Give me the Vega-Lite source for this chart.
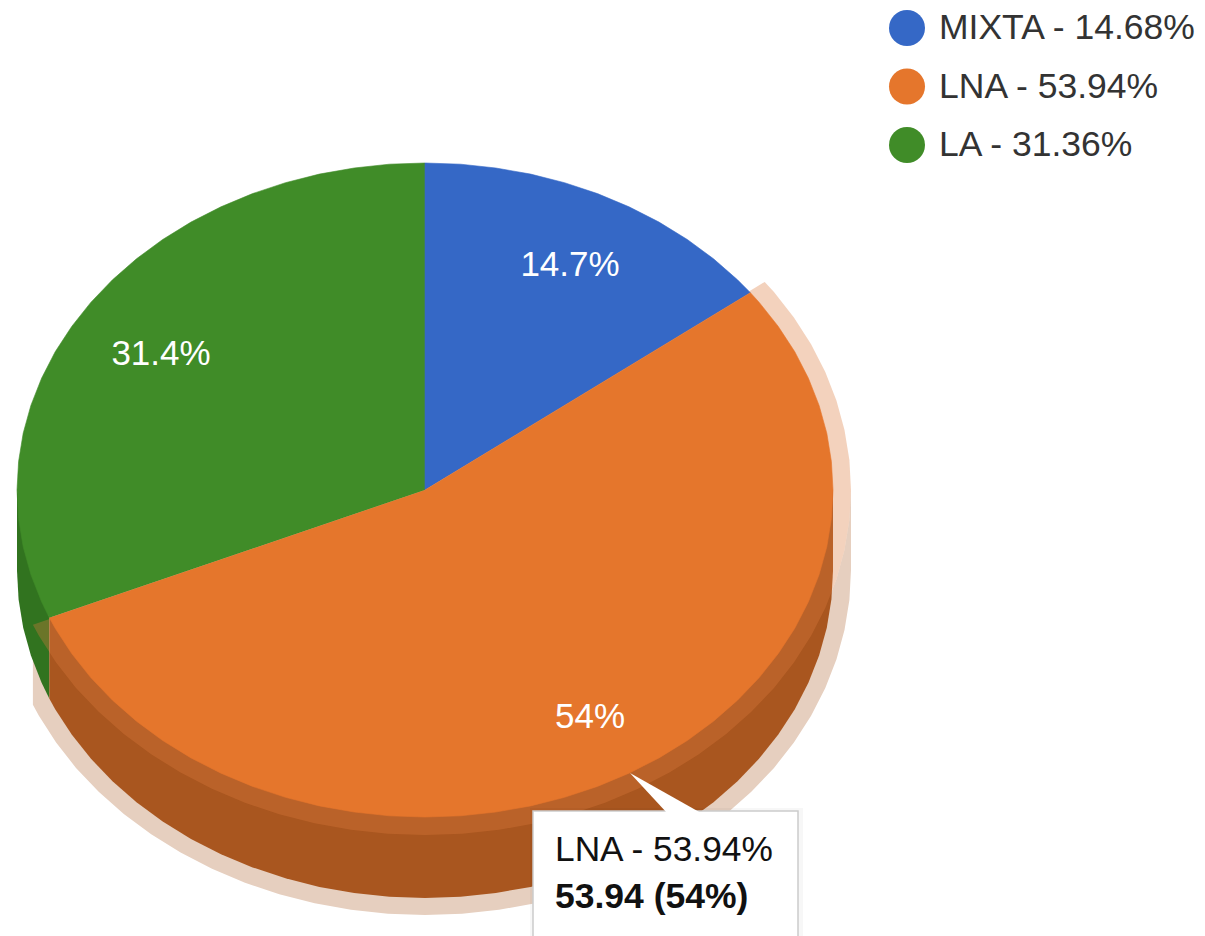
{
"$schema":"https://vega.github.io/schema/vega-lite/v6.json",
"width":1205,"height":936,"padding":0,"autosize":{"type":"none"},"background":"white",
"config":{"view":{"stroke":null},"font":"Liberation Sans"},
"datasets":{
"ringSide":[{"x":851,"y":490},{"x":851,"y":570},{"x":849.4,"y":600.1},{"x":844.5,"y":629.9},{"x":836.5,"y":659.3},{"x":825.3,"y":688},{"x":811.1,"y":715.8},{"x":793.9,"y":742.5},{"x":774,"y":767.9},{"x":751.3,"y":791.8},{"x":726.2,"y":814},{"x":698.8,"y":834.3},{"x":669.4,"y":852.6},{"x":638,"y":868.8},{"x":605,"y":882.7},{"x":570.7,"y":894.2},{"x":535.3,"y":903.2},{"x":499,"y":909.8},{"x":462.1,"y":913.7},{"x":425,"y":915},{"x":387.9,"y":913.7},{"x":351,"y":909.8},{"x":314.7,"y":903.2},{"x":279.3,"y":894.2},{"x":245,"y":882.7},{"x":212,"y":868.8},{"x":180.6,"y":852.6},{"x":151.2,"y":834.3},{"x":123.8,"y":814},{"x":98.7,"y":791.8},{"x":76,"y":767.9},{"x":56.1,"y":742.5},{"x":38.9,"y":715.8},{"x":32.9,"y":704.8},{"x":32.9,"y":624.8},{"x":38.9,"y":635.8},{"x":56.1,"y":662.5},{"x":76,"y":687.9},{"x":98.7,"y":711.8},{"x":123.8,"y":734},{"x":151.2,"y":754.3},{"x":180.6,"y":772.6},{"x":212,"y":788.8},{"x":245,"y":802.7},{"x":279.3,"y":814.2},{"x":314.7,"y":823.2},{"x":351,"y":829.8},{"x":387.9,"y":833.7},{"x":425,"y":835},{"x":462.1,"y":833.7},{"x":499,"y":829.8},{"x":535.3,"y":823.2},{"x":570.7,"y":814.2},{"x":605,"y":802.7},{"x":638,"y":788.8},{"x":669.4,"y":772.6},{"x":698.8,"y":754.3},{"x":726.2,"y":734},{"x":751.3,"y":711.8},{"x":774,"y":687.9},{"x":793.9,"y":662.5},{"x":811.1,"y":635.8},{"x":825.3,"y":608},{"x":836.5,"y":579.3},{"x":844.5,"y":549.9},{"x":849.4,"y":520.1}],
"sideGreen":[{"x":49.4,"y":617.8},{"x":49.4,"y":698.8},{"x":41.6,"y":682.8},{"x":30.9,"y":655.6},{"x":23.2,"y":627.8},{"x":18.6,"y":599.5},{"x":17,"y":571},{"x":17,"y":490}],
"sideOrange":[{"x":833,"y":490},{"x":833,"y":571},{"x":831.4,"y":599.5},{"x":826.8,"y":627.8},{"x":819.1,"y":655.6},{"x":808.4,"y":682.8},{"x":794.8,"y":709.2},{"x":778.3,"y":734.5},{"x":759.2,"y":758.6},{"x":737.5,"y":781.2},{"x":713.5,"y":802.2},{"x":687.3,"y":821.5},{"x":659,"y":838.9},{"x":629,"y":854.2},{"x":597.4,"y":867.4},{"x":564.5,"y":878.3},{"x":530.6,"y":886.9},{"x":495.8,"y":893},{"x":460.6,"y":896.8},{"x":425,"y":898},{"x":389.4,"y":896.8},{"x":354.2,"y":893},{"x":319.4,"y":886.9},{"x":285.5,"y":878.3},{"x":252.6,"y":867.4},{"x":221,"y":854.2},{"x":191,"y":838.9},{"x":162.7,"y":821.5},{"x":136.5,"y":802.2},{"x":112.5,"y":781.2},{"x":90.8,"y":758.6},{"x":71.7,"y":734.5},{"x":55.2,"y":709.2},{"x":49.4,"y":698.8},{"x":49.4,"y":617.8}],
"highlight":[{"x":425,"y":490},{"x":764.7,"y":281.9},{"x":774,"y":292.1},{"x":793.9,"y":317.5},{"x":811.1,"y":344.2},{"x":825.3,"y":372},{"x":836.5,"y":400.7},{"x":844.5,"y":430.1},{"x":849.4,"y":459.9},{"x":851,"y":490},{"x":849.4,"y":520.1},{"x":844.5,"y":549.9},{"x":836.5,"y":579.3},{"x":825.3,"y":608},{"x":811.1,"y":635.8},{"x":793.9,"y":662.5},{"x":774,"y":687.9},{"x":751.3,"y":711.8},{"x":726.2,"y":734},{"x":698.8,"y":754.3},{"x":669.4,"y":772.6},{"x":638,"y":788.8},{"x":605,"y":802.7},{"x":570.7,"y":814.2},{"x":535.3,"y":823.2},{"x":499,"y":829.8},{"x":462.1,"y":833.7},{"x":425,"y":835},{"x":387.9,"y":833.7},{"x":351,"y":829.8},{"x":314.7,"y":823.2},{"x":279.3,"y":814.2},{"x":245,"y":802.7},{"x":212,"y":788.8},{"x":180.6,"y":772.6},{"x":151.2,"y":754.3},{"x":123.8,"y":734},{"x":98.7,"y":711.8},{"x":76,"y":687.9},{"x":56.1,"y":662.5},{"x":38.9,"y":635.8},{"x":32.9,"y":624.8}],
"top":[
{"s":"LA - 31.36%","x":425,"y":490},{"s":"LA - 31.36%","x":49.4,"y":617.8},{"s":"LA - 31.36%","x":41.6,"y":601.8},{"s":"LA - 31.36%","x":30.9,"y":574.6},{"s":"LA - 31.36%","x":23.2,"y":546.8},{"s":"LA - 31.36%","x":18.6,"y":518.5},{"s":"LA - 31.36%","x":17,"y":490},{"s":"LA - 31.36%","x":18.6,"y":461.5},{"s":"LA - 31.36%","x":23.2,"y":433.2},{"s":"LA - 31.36%","x":30.9,"y":405.4},{"s":"LA - 31.36%","x":41.6,"y":378.2},{"s":"LA - 31.36%","x":55.2,"y":351.8},{"s":"LA - 31.36%","x":71.7,"y":326.5},{"s":"LA - 31.36%","x":90.8,"y":302.4},{"s":"LA - 31.36%","x":112.5,"y":279.8},{"s":"LA - 31.36%","x":136.5,"y":258.8},{"s":"LA - 31.36%","x":162.7,"y":239.5},{"s":"LA - 31.36%","x":191,"y":222.1},{"s":"LA - 31.36%","x":221,"y":206.8},{"s":"LA - 31.36%","x":252.6,"y":193.6},{"s":"LA - 31.36%","x":285.5,"y":182.7},{"s":"LA - 31.36%","x":319.4,"y":174.1},{"s":"LA - 31.36%","x":354.2,"y":168},{"s":"LA - 31.36%","x":389.4,"y":164.2},{"s":"LA - 31.36%","x":425,"y":163},
{"s":"MIXTA - 14.68%","x":425,"y":490},{"s":"MIXTA - 14.68%","x":425,"y":163},{"s":"MIXTA - 14.68%","x":460.6,"y":164.2},{"s":"MIXTA - 14.68%","x":495.8,"y":168},{"s":"MIXTA - 14.68%","x":530.6,"y":174.1},{"s":"MIXTA - 14.68%","x":564.5,"y":182.7},{"s":"MIXTA - 14.68%","x":597.4,"y":193.6},{"s":"MIXTA - 14.68%","x":629,"y":206.8},{"s":"MIXTA - 14.68%","x":659,"y":222.1},{"s":"MIXTA - 14.68%","x":687.3,"y":239.5},{"s":"MIXTA - 14.68%","x":713.5,"y":258.8},{"s":"MIXTA - 14.68%","x":737.5,"y":279.8},{"s":"MIXTA - 14.68%","x":750.4,"y":292.7},
{"s":"LNA - 53.94%","x":425,"y":490},{"s":"LNA - 53.94%","x":750.4,"y":292.7},{"s":"LNA - 53.94%","x":759.2,"y":302.4},{"s":"LNA - 53.94%","x":778.3,"y":326.5},{"s":"LNA - 53.94%","x":794.8,"y":351.8},{"s":"LNA - 53.94%","x":808.4,"y":378.2},{"s":"LNA - 53.94%","x":819.1,"y":405.4},{"s":"LNA - 53.94%","x":826.8,"y":433.2},{"s":"LNA - 53.94%","x":831.4,"y":461.5},{"s":"LNA - 53.94%","x":833,"y":490},{"s":"LNA - 53.94%","x":831.4,"y":518.5},{"s":"LNA - 53.94%","x":826.8,"y":546.8},{"s":"LNA - 53.94%","x":819.1,"y":574.6},{"s":"LNA - 53.94%","x":808.4,"y":601.8},{"s":"LNA - 53.94%","x":794.8,"y":628.2},{"s":"LNA - 53.94%","x":778.3,"y":653.5},{"s":"LNA - 53.94%","x":759.2,"y":677.6},{"s":"LNA - 53.94%","x":737.5,"y":700.2},{"s":"LNA - 53.94%","x":713.5,"y":721.2},{"s":"LNA - 53.94%","x":687.3,"y":740.5},{"s":"LNA - 53.94%","x":659,"y":757.9},{"s":"LNA - 53.94%","x":629,"y":773.2},{"s":"LNA - 53.94%","x":597.4,"y":786.4},{"s":"LNA - 53.94%","x":564.5,"y":797.3},{"s":"LNA - 53.94%","x":530.6,"y":805.9},{"s":"LNA - 53.94%","x":495.8,"y":812},{"s":"LNA - 53.94%","x":460.6,"y":815.8},{"s":"LNA - 53.94%","x":425,"y":817},{"s":"LNA - 53.94%","x":389.4,"y":815.8},{"s":"LNA - 53.94%","x":354.2,"y":812},{"s":"LNA - 53.94%","x":319.4,"y":805.9},{"s":"LNA - 53.94%","x":285.5,"y":797.3},{"s":"LNA - 53.94%","x":252.6,"y":786.4},{"s":"LNA - 53.94%","x":221,"y":773.2},{"s":"LNA - 53.94%","x":191,"y":757.9},{"s":"LNA - 53.94%","x":162.7,"y":740.5},{"s":"LNA - 53.94%","x":136.5,"y":721.2},{"s":"LNA - 53.94%","x":112.5,"y":700.2},{"s":"LNA - 53.94%","x":90.8,"y":677.6},{"s":"LNA - 53.94%","x":71.7,"y":653.5},{"s":"LNA - 53.94%","x":55.2,"y":628.2},{"s":"LNA - 53.94%","x":49.4,"y":617.8}
],
"callout":[{"x":630,"y":773},{"x":667,"y":813},{"x":701,"y":813}]
},
"encoding":{
"x":{"field":"x","type":"quantitative","scale":{"domain":[0,1205],"nice":false,"zero":false},"axis":null},
"y":{"field":"y","type":"quantitative","scale":{"domain":[936,0],"nice":false,"zero":false},"axis":null}
},
"layer":[
{"data":{"name":"ringSide"},"mark":{"type":"line","fill":"#e6cfbf","strokeWidth":0},"encoding":{"order":{"value":null}}},
{"data":{"name":"sideGreen"},"mark":{"type":"line","fill":"#31731f","strokeWidth":0},"encoding":{"order":{"value":null}}},
{"data":{"name":"sideOrange"},"mark":{"type":"line","fill":"#a9561f","strokeWidth":0},"encoding":{"order":{"value":null}}},
{"data":{"name":"highlight"},"mark":{"type":"line","fill":"#dc7b3e","fillOpacity":0.34,"strokeWidth":0},"encoding":{"order":{"value":null}}},
{"data":{"name":"top"},"mark":{"type":"line","strokeWidth":0.6},"encoding":{"order":{"value":null},
"stroke":{"field":"s","type":"nominal","scale":{"domain":["MIXTA - 14.68%","LNA - 53.94%","LA - 31.36%"],"range":["#3568c6","#e5762c","#408c28"]},"legend":null},
"fill":{"field":"s","type":"nominal","scale":{"domain":["MIXTA - 14.68%","LNA - 53.94%","LA - 31.36%"],"range":["#3568c6","#e5762c","#408c28"]},
"legend":{"title":null,"orient":"none","legendX":889,"legendY":10,"symbolType":"circle","symbolSize":1296,"symbolStrokeWidth":0,"labelFontSize":35.5,"labelColor":"#333333","labelFont":"Liberation Sans","labelOffset":14,"rowPadding":21.5,"labelLimit":400}}}},
{"data":{"values":[{"x":570,"y":276,"t":"14.7%"},{"x":161,"y":365,"t":"31.4%"},{"x":590,"y":728,"t":"54%"}]},"mark":{"type":"text","fontSize":35,"fill":"white","align":"center","baseline":"alphabetic"},"encoding":{"text":{"field":"t"}}},
{"data":{"values":[{"x":530,"x2":803,"y":808,"y2":945}]},"mark":{"type":"rect","fill":"#000000","fillOpacity":0.03},"encoding":{"x2":{"field":"x2"},"y2":{"field":"y2"}}},
{"data":{"values":[{"x":533,"x2":798,"y":811,"y2":945}]},"mark":{"type":"rect","fill":"white","stroke":"#cccccc","strokeWidth":1.5},"encoding":{"x2":{"field":"x2"},"y2":{"field":"y2"}}},
{"data":{"name":"callout"},"mark":{"type":"line","fill":"white","strokeWidth":0},"encoding":{"order":{"value":null}}},
{"data":{"values":[{"x":555,"y":861,"t":"LNA - 53.94%"}]},"mark":{"type":"text","fontSize":35.3,"fill":"#111111","align":"left","baseline":"alphabetic"},"encoding":{"text":{"field":"t"}}},
{"data":{"values":[{"x":555,"y":908,"t":"53.94 (54%)"}]},"mark":{"type":"text","fontSize":35.5,"fontWeight":"bold","fill":"#111111","align":"left","baseline":"alphabetic"},"encoding":{"text":{"field":"t"}}}
]
}
